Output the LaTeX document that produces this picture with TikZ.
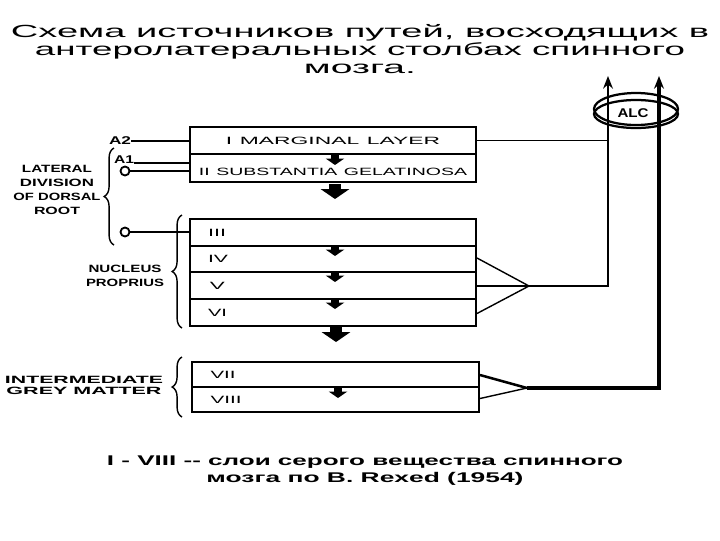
\documentclass[tikz,border=0pt]{standalone}
\usepackage{fontspec}
\setmainfont{Liberation Sans}
\usetikzlibrary{arrows.meta,decorations.pathreplacing}

\newlength{\pxu}\setlength{\pxu}{0.025cm}
% stretch a line of text to a given width (in px units), height kept
\newcommand{\wx}[2]{\resizebox{#1\pxu}{\height}{#2}}

\begin{document}
\begin{tikzpicture}[x=0.025cm, y=-0.025cm,
    layer/.style={draw, line width=1.4pt, minimum width=286\pxu, inner xsep=3\pxu,
      inner ysep=0pt, text width=280\pxu, align=center, font=\fontsize{7.5}{9}\selectfont},
    roman/.style={layer, inner xsep=18\pxu, text width=250\pxu, align=left},
    side/.style={align=center, inner sep=0pt, font=\bfseries\fontsize{7.5}{10}\selectfont},
    root/.style={circle, draw, line width=1.3pt, minimum size=9\pxu, inner sep=0pt},
    wire/.style={line width=1pt},
    fat/.style={line width=2.6pt},
    cbrace/.style={decorate, line width=1pt, decoration={brace, amplitude=7pt}},
    smallarr/.style={line width=5.5pt, -{Triangle[width=13pt, length=4.6pt]}},
    bigarr/.style={line width=8.5pt, -{Triangle[width=20pt, length=7pt]}},
    uparr/.style={-{Stealth[length=9pt, width=7pt]}}]
  \useasboundingbox (0,0) rectangle (720,540);

  % title
  \node[align=center, inner sep=0pt, font=\fontsize{12.5}{13}\selectfont] (title) at (360,49)
    {\wx{698}{Схема источников путей, восходящих в}\\
     \wx{650}{антеролатеральных столбах спинного}\\
     \wx{112}{мозга.}};

  % layers of Rexed
  \node[layer, minimum height=27\pxu] (l1) at (333,140.5) {\wx{214}{I MARGINAL LAYER}};
  \node[layer, minimum height=28\pxu, text height=11pt, text depth=0pt] (l2) at (333,168)
    {\wx{268}{II SUBSTANTIA GELATINOSA}};
  \node[roman, minimum height=27\pxu] (l3) at (333,232.5) {\wx{18}{III}};
  \node[roman, minimum height=26\pxu] (l4) at (333,259) {\wx{20}{IV}};
  \node[roman, minimum height=27\pxu] (l5) at (333,285.5) {\,\wx{15}{V}};
  \node[roman, minimum height=27\pxu] (l6) at (333,312.5) {\wx{19}{VI}};
  \node[roman, minimum height=25\pxu, minimum width=287\pxu] (l7) at (335.5,374.5) {\wx{25}{VII}};
  \node[roman, minimum height=25\pxu, minimum width=287\pxu] (l8) at (335.5,399.5) {\wx{31}{VIII}};

  % arrows between layers
  \draw[smallarr] (335,154) -- (335,165);
  \draw[smallarr] (335,246) -- (335,256);
  \draw[smallarr] (335,272) -- (335,282);
  \draw[smallarr] (335,299) -- (335,309);
  \draw[smallarr] (338,387) -- (338,398);
  \draw[bigarr] (335,184) -- (335,199);
  \draw[bigarr] (336,327) -- (336,342);

  % side labels and braces
  \node[side] (lat) at (57,190) {\wx{70}{LATERAL}\\\wx{74}{DIVISION}\\\wx{87}{OF DORSAL}\\\wx{46}{ROOT}};
  \node[side] (nuc) at (125,276) {\wx{73}{NUCLEUS}\\\wx{78}{PROPRIUS}};
  \node[side, font=\bfseries\fontsize{7.5}{8}\selectfont] (inter) at (84,385.5)
    {\wx{158}{INTERMEDIATE}\\\wx{155}{GREY MATTER}};
  \draw[cbrace] (114,245) -- (114,148);
  \draw[cbrace] (182,328) -- (182,215);
  \draw[cbrace] (182,417) -- (182,357);

  % dorsal root fibres
  \node[side, font=\bfseries\fontsize{8}{9}\selectfont] (a2) at (120,141) {\wx{22}{A2}};
  \node[side, font=\bfseries\fontsize{8}{9}\selectfont] (a1) at (124,160) {\wx{20}{A1}};
  \node[root] (r1) at (125,171) {};
  \node[root] (r2) at (125,232) {};
  \draw[wire] (a2.east) -- (a2.east -| l1.west);
  \draw[wire] ([yshift=-3\pxu]a1.east) -- ([yshift=-3\pxu]a1.east -| l2.west);
  \draw[wire] (r1) -- (r1 -| l2.west);
  \draw[wire] (r2) -- (r2 -| l3.west);

  % anterolateral column
  \coordinate (alcl) at (608,76);
  \coordinate (alcr) at (659,76);
  \coordinate (mtip) at (529,286);
  \coordinate (btip) at (527,388);
  \draw[wire] (l1.east) -- (l1.east -| alcl);
  \draw[wire] ([yshift=1\pxu]l4.east) -- (mtip) -- ([yshift=-1\pxu]l6.east);
  \draw[wire, uparr] (l5.east |- mtip) -- (mtip -| alcl) -- (alcl);
  \draw[line width=1.8pt] ([yshift=-0.5\pxu]l7.east) -- (btip);
  \draw[wire] (btip) -- ([yshift=1\pxu]l8.east);
  \draw[fat, uparr] (btip) -- (btip -| alcr) -- (alcr);

  \draw[line width=1.6pt] (636,109) ellipse (42 and 16);
  \draw[line width=1.6pt] (636,114) ellipse (42 and 14);
  \node[font=\bfseries\fontsize{9}{10}\selectfont, inner sep=1pt] (alc) at (633,113) {\wx{31}{ALC}};

  % caption
  \node[align=center, inner sep=0pt, font=\bfseries\fontsize{10}{12}\selectfont] (note) at (365,471)
    {\wx{516}{I - VIII \mbox{-}\mbox{-} слои серого вещества спинного}\\
     \wx{317}{мозга по B. Rexed (1954)}};
\end{tikzpicture}
\end{document}
